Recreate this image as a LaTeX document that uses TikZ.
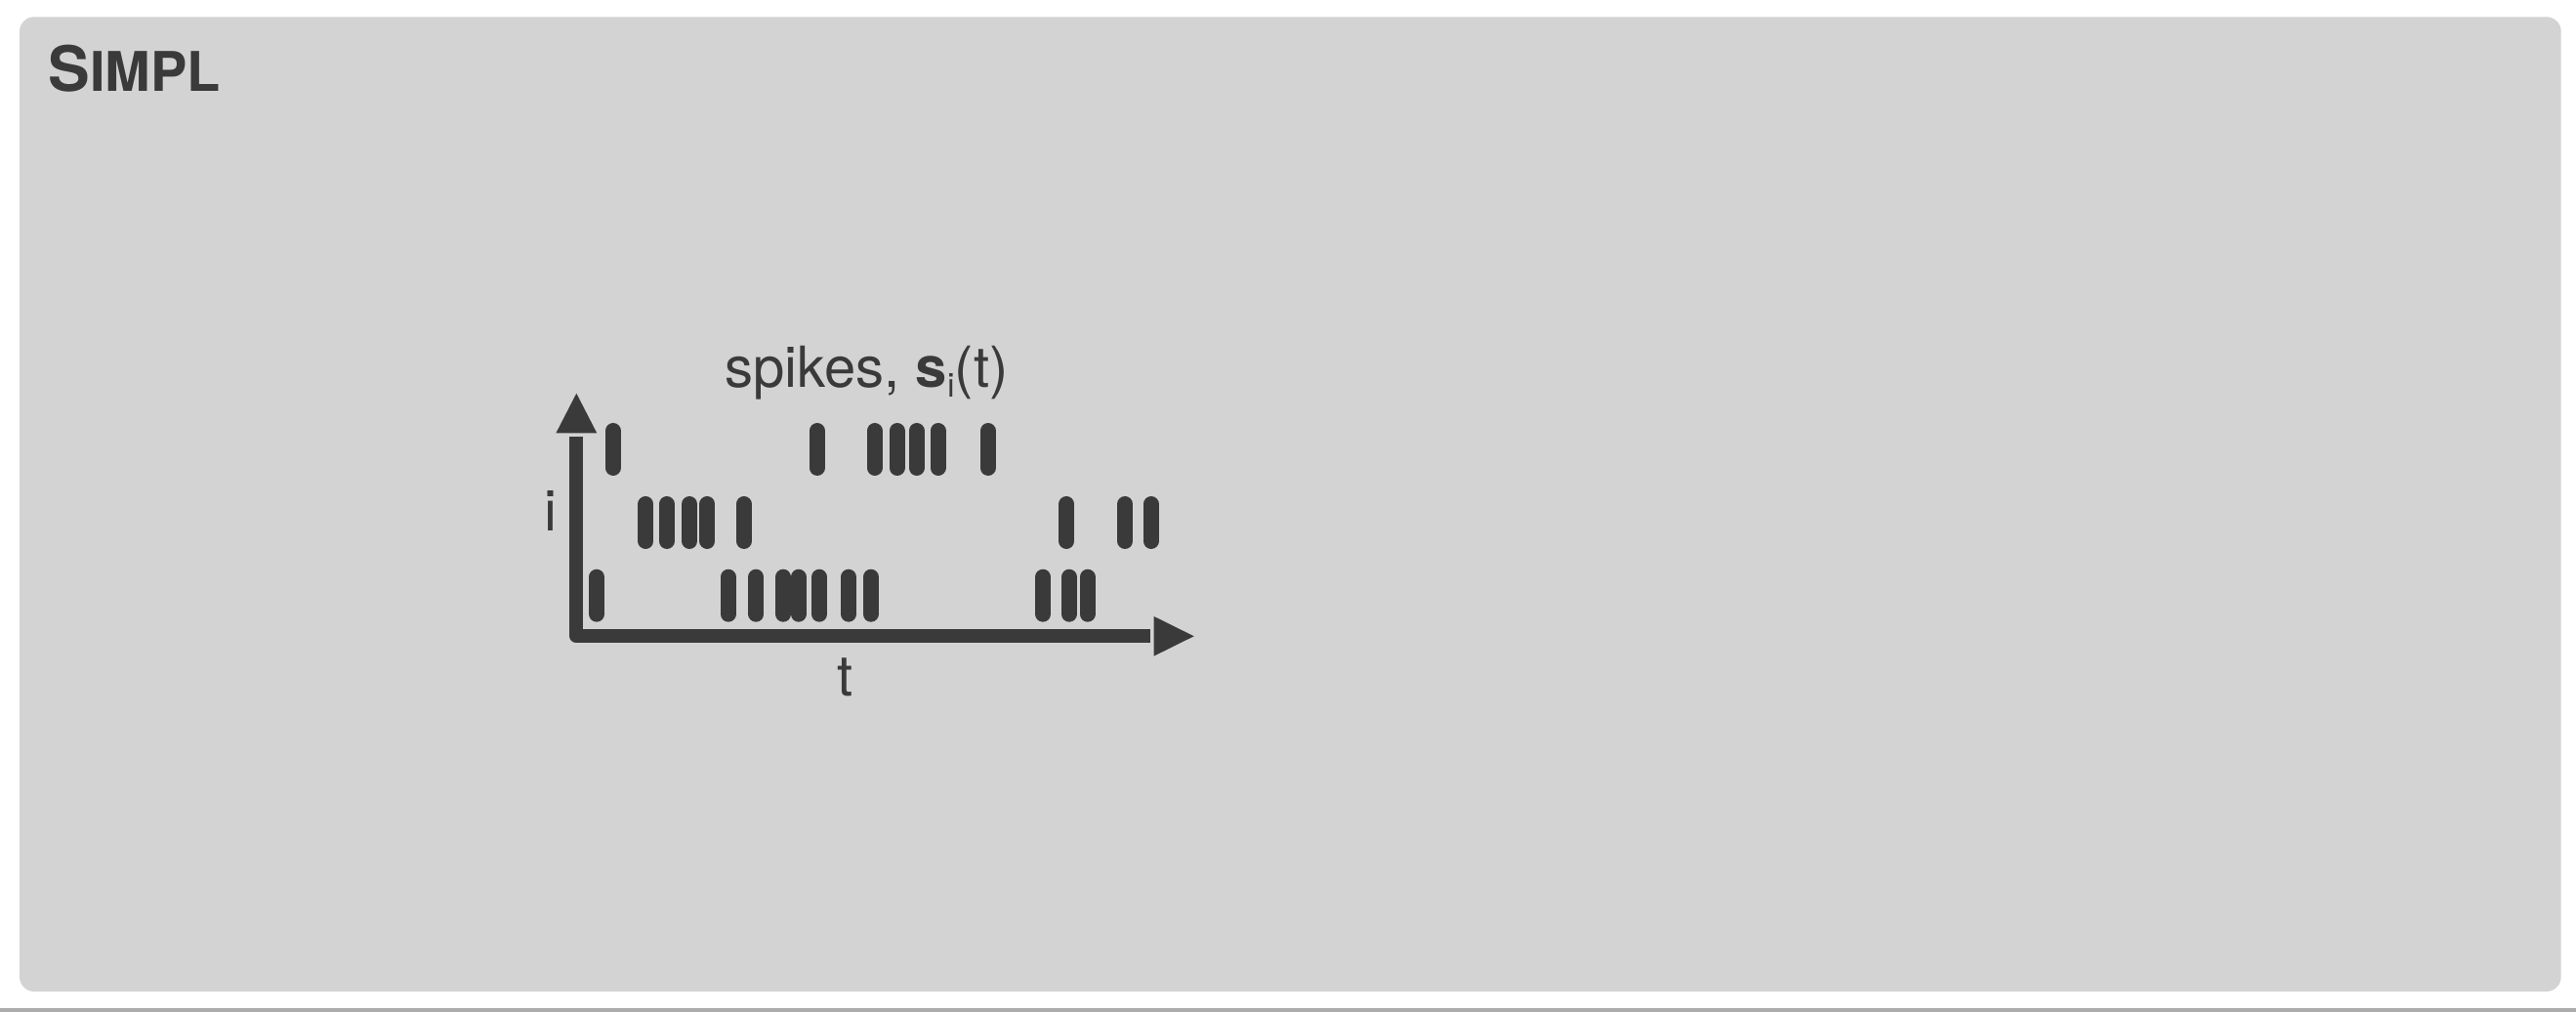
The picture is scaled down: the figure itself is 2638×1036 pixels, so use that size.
\documentclass[tikz,border=0pt]{standalone}
\usepackage{fontspec}
\setmainfont{TeX Gyre Heros}
\definecolor{ink}{HTML}{3A3A3A}
\definecolor{panel}{HTML}{D3D3D3}
\begin{document}
\begin{tikzpicture}[x=0.5pt,y=-0.5pt,
  spike/.style={line width=8pt, line cap=round, draw=ink},
  axis/.style={line width=7pt, draw=ink, line join=round},
  lbl/.style={inner sep=0pt, anchor=base, text=ink, font=\fontsize{29}{34}\selectfont}]
\useasboundingbox (0,0) rectangle (2638,1036);
\fill[white] (0,0) rectangle (2638,1036);
\fill[gray!65] (0,1032) rectangle (2638,1036);
\fill[panel, rounded corners=7.5pt] (20,17.3) rectangle (2622.7,1015);
% title
\node[anchor=base west, inner sep=0pt, text=ink] (title) at (49,93.3)
  {\bfseries\fontsize{32}{36}\selectfont S\fontsize{28}{32}\selectfont IMPL};
% axes
\coordinate (corner) at (590.3,651.3);
\coordinate (ytip) at (590.3,402.7);
\coordinate (xtip) at (1222.7,651.3);
\draw[axis] (590.3,447) -- (corner) -- (1178,651.3);
\fill[ink] (ytip) -- (569.3,443.5) -- (611.3,443.5) -- cycle;
\fill[ink] (xtip) -- (1181.7,631) -- (1181.7,671.6) -- cycle;
% spikes
\foreach \x in {627.9,836.9,895.8,918.6,938.7,960.5,1011.9}
  \draw[spike] (\x,441) -- (\x,479);
\foreach \x in {661.4,682.9,706.1,724.4,761.9,1092.2,1152.1,1178.8}
  \draw[spike] (\x,516) -- (\x,554);
\foreach \x in {611,745.8,774.4,802.1,817.7,839.1,869,891.8,1068.1,1094.9,1113.7}
  \draw[spike] (\x,590.7) -- (\x,628.7);
% labels
\node[lbl] (ilabel) at (563.7,543.3) {i};
\node[lbl] (tlabel) at (865.7,712) {t};
\node[lbl] (spk) at (887.5,396.7) {spikes, \textbf{s}\raisebox{-5pt}{\fontsize{17}{17}\selectfont i}(t)};
\end{tikzpicture}
\end{document}
